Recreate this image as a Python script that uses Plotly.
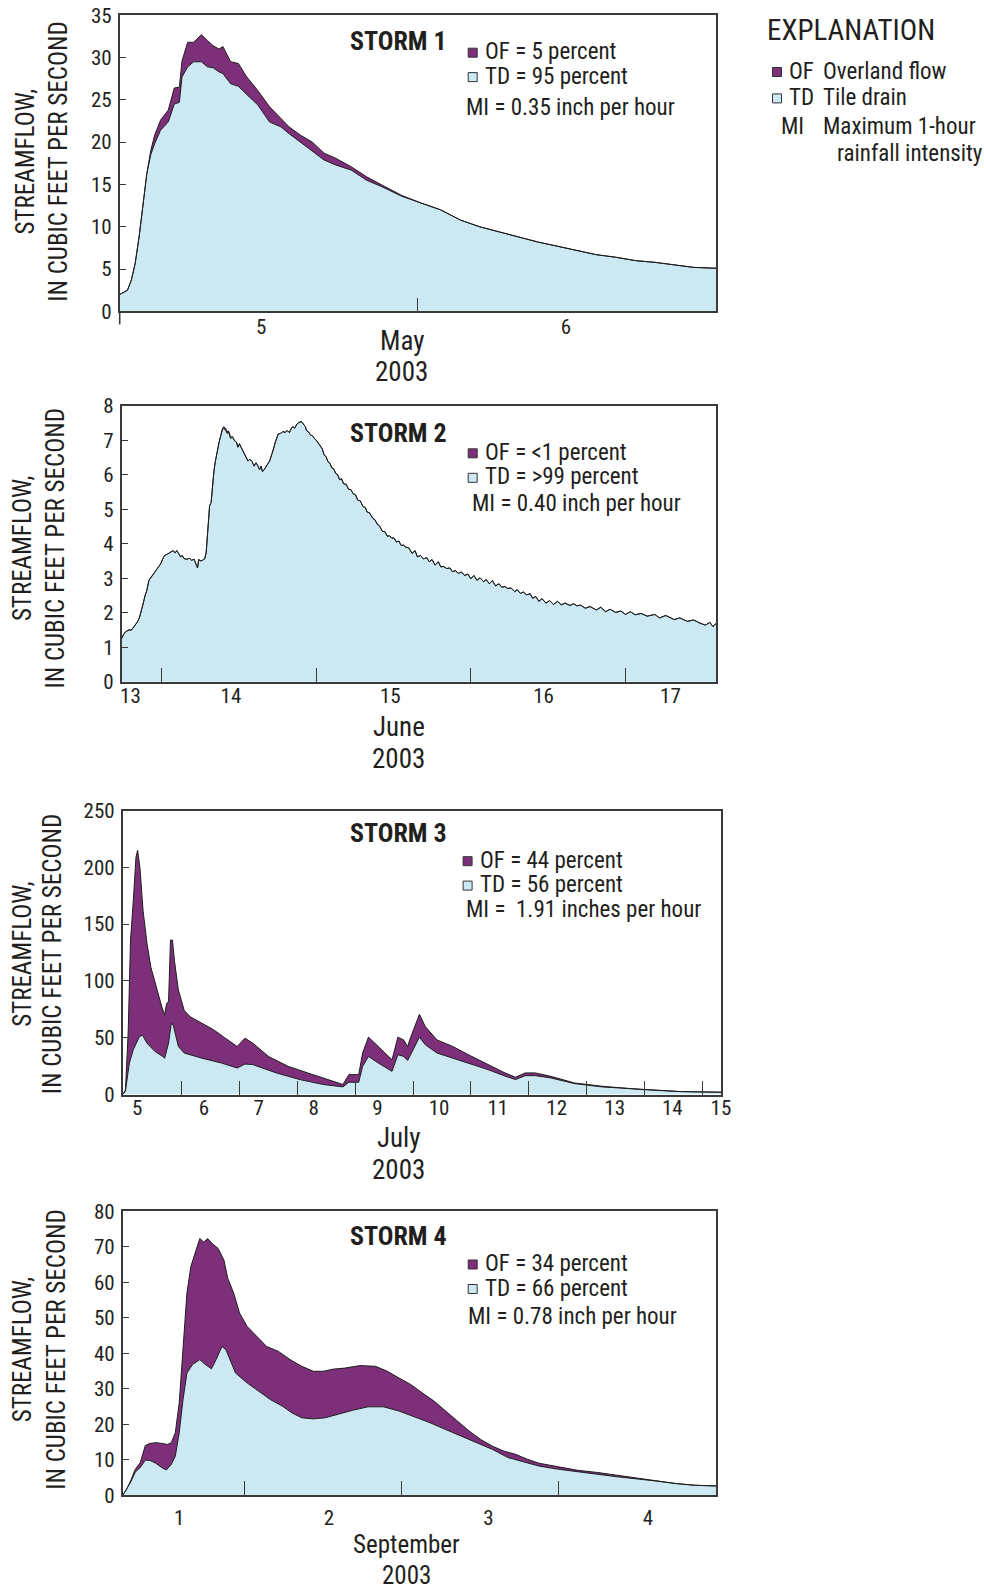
import plotly.graph_objects as go

# ---------------- DATA ----------------
# x values are fractional day-of-month (d.0 = midnight starting day d)

# Storm 1 - May 2003
storm1_day = [5.000, 5.026, 5.039, 5.052, 5.065, 5.078, 5.091, 5.104, 5.117, 5.137,
              5.163, 5.183, 5.200, 5.209, 5.228, 5.248, 5.274, 5.294, 5.313, 5.333,
              5.346, 5.372, 5.398, 5.424, 5.463, 5.502, 5.541, 5.568, 5.607, 5.646,
              5.685, 5.724, 5.776, 5.828, 5.881, 5.946, 6.011, 6.076, 6.142, 6.207,
              6.272, 6.337, 6.402, 6.468, 6.533, 6.598, 6.663, 6.729, 6.794, 6.859,
              6.924, 7.000]
storm1_total = [2.0, 2.5, 3.7, 5.7, 8.8, 12.8, 16.3, 19.0, 20.8, 22.6,
                23.8, 26.4, 26.5, 29.6, 31.8, 31.8, 32.7, 32.0, 31.4, 31.0,
                31.3, 29.5, 29.3, 27.8, 26.1, 24.2, 22.8, 21.8, 20.8, 20.0,
                18.7, 18.1, 17.1, 15.9, 14.9, 13.7, 12.8, 12.0, 10.8, 10.0,
                9.4, 8.8, 8.2, 7.7, 7.2, 6.7, 6.4, 6.0, 5.8, 5.5,
                5.2, 5.1]
storm1_td = [2.0, 2.5, 3.7, 5.7, 8.8, 12.8, 16.3, 18.5, 19.8, 21.4,
             22.4, 24.5, 24.7, 27.7, 28.9, 29.5, 29.5, 28.9, 28.8, 28.3,
             28.1, 26.9, 26.6, 25.7, 24.4, 22.4, 21.8, 21.0, 20.0, 19.0,
             17.9, 17.3, 16.7, 15.5, 14.7, 13.6, 12.8, 12.0, 10.8, 10.0,
             9.4, 8.8, 8.2, 7.7, 7.2, 6.7, 6.4, 6.0, 5.8, 5.5,
             5.2, 5.1]
storm1_ticklabels = ["5", "6"]
storm1_tickpos = [5.474, 6.496]
storm1_daybreaks = [6]

# Storm 2 - June 2003
storm2_day = [13.744, 13.757, 13.770, 13.790, 13.807, 13.825, 13.845, 13.858, 13.870, 13.882,
              13.895, 13.905, 13.920, 13.938, 13.958, 13.975, 13.996, 14.008, 14.021, 14.040,
              14.059, 14.075, 14.090, 14.100, 14.109, 14.125, 14.135, 14.147, 14.165, 14.180,
              14.196, 14.212, 14.225, 14.234, 14.242, 14.252, 14.265, 14.280, 14.290, 14.297,
              14.305, 14.312, 14.322, 14.330, 14.340, 14.348, 14.360, 14.373, 14.385, 14.395,
              14.403, 14.415, 14.425, 14.435, 14.448, 14.460, 14.473, 14.485, 14.495, 14.505,
              14.511, 14.525, 14.537, 14.549, 14.560, 14.572, 14.587, 14.600, 14.612, 14.624,
              14.635, 14.645, 14.654, 14.665, 14.677, 14.687, 14.700, 14.712, 14.725, 14.737,
              14.747, 14.755, 14.770, 14.785, 14.800, 14.815, 14.828, 14.838, 14.850, 14.862,
              14.876, 14.890, 14.906, 14.918, 14.930, 14.939, 14.950, 14.965, 14.976, 14.990,
              15.005, 15.027, 15.040, 15.052, 15.065, 15.077, 15.090, 15.102, 15.115, 15.127,
              15.140, 15.152, 15.165, 15.178, 15.195, 15.210, 15.225, 15.240, 15.255, 15.270,
              15.285, 15.303, 15.318, 15.330, 15.345, 15.366, 15.380, 15.395, 15.410, 15.429,
              15.445, 15.460, 15.475, 15.490, 15.504, 15.520, 15.535, 15.550, 15.565, 15.580,
              15.600, 15.620, 15.640, 15.655, 15.675, 15.695, 15.715, 15.731, 15.750, 15.770,
              15.790, 15.806, 15.825, 15.845, 15.865, 15.881, 15.900, 15.920, 15.940, 15.960,
              15.982, 16.000, 16.020, 16.040, 16.060, 16.083, 16.100, 16.120, 16.140, 16.160,
              16.183, 16.200, 16.220, 16.240, 16.260, 16.284, 16.300, 16.320, 16.340, 16.360,
              16.384, 16.400, 16.420, 16.440, 16.460, 16.485, 16.510, 16.535, 16.560, 16.585,
              16.610, 16.640, 16.665, 16.686, 16.710, 16.740, 16.770, 16.812, 16.840, 16.870,
              16.900, 16.937, 16.970, 17.000, 17.030, 17.063, 17.100, 17.140, 17.189, 17.220,
              17.260, 17.315, 17.350, 17.400, 17.440, 17.480, 17.516, 17.545, 17.565, 17.586]
storm2_td = [1.25, 1.38, 1.45, 1.50, 1.50, 1.60, 1.73, 1.85, 2.02, 2.25,
             2.50, 2.62, 2.94, 3.05, 3.18, 3.30, 3.42, 3.55, 3.66, 3.70,
             3.76, 3.80, 3.74, 3.80, 3.74, 3.62, 3.66, 3.57, 3.55, 3.58,
             3.52, 3.55, 3.40, 3.30, 3.55, 3.50, 3.52, 3.56, 3.75, 4.14,
             4.60, 5.10, 5.20, 5.70, 6.10, 6.36, 6.70, 6.94, 7.15, 7.30,
             7.34, 7.30, 7.20, 7.23, 7.05, 7.10, 6.99, 6.95, 6.80, 6.90,
             6.84, 6.70, 6.62, 6.51, 6.40, 6.45, 6.38, 6.25, 6.35, 6.26,
             6.15, 6.25, 6.09, 6.15, 6.22, 6.31, 6.40, 6.55, 6.75, 6.95,
             7.05, 7.18, 7.20, 7.25, 7.23, 7.28, 7.22, 7.33, 7.40, 7.35,
             7.47, 7.52, 7.54, 7.45, 7.40, 7.28, 7.25, 7.15, 7.13, 7.05,
             6.98, 6.84, 6.75, 6.58, 6.52, 6.38, 6.33, 6.20, 6.17, 6.04,
             6.00, 5.86, 5.88, 5.74, 5.72, 5.58, 5.57, 5.45, 5.42, 5.26,
             5.25, 5.08, 5.05, 4.92, 4.90, 4.74, 4.70, 4.57, 4.52, 4.36,
             4.35, 4.22, 4.23, 4.16, 4.17, 4.05, 4.08, 3.95, 3.96, 3.90,
             3.88, 3.72, 3.80, 3.62, 3.66, 3.56, 3.60, 3.48, 3.54, 3.38,
             3.48, 3.33, 3.34, 3.28, 3.30, 3.19, 3.22, 3.14, 3.18, 3.08,
             3.12, 2.98, 3.08, 2.94, 3.01, 2.90, 2.96, 2.84, 2.93, 2.78,
             2.84, 2.74, 2.76, 2.70, 2.72, 2.61, 2.67, 2.56, 2.60, 2.52,
             2.55, 2.42, 2.47, 2.33, 2.41, 2.28, 2.35, 2.24, 2.33, 2.23,
             2.28, 2.21, 2.26, 2.20, 2.22, 2.13, 2.18, 2.08, 2.16, 2.03,
             2.10, 2.01, 2.05, 1.95, 2.03, 1.94, 1.98, 1.90, 1.95, 1.85,
             1.92, 1.80, 1.85, 1.75, 1.79, 1.70, 1.64, 1.72, 1.60, 1.69]
# small overland-flow contribution near the first peak (cfs), keyed by day
storm2_of = {14.395: 0.04, 14.403: 0.05, 14.415: 0.05, 14.425: 0.05, 14.435: 0.04, 14.448: 0.04}
storm2_ticklabels = ["13", "14", "15", "16", "17"]
storm2_tickpos = [13.80, 14.45, 15.48, 16.47, 17.29]
storm2_daybreaks = [14, 15, 16, 17]

# Storm 3 - July 2003
storm3_total_day = [4.993, 5.040, 5.087, 5.128, 5.175, 5.222, 5.250, 5.290, 5.344, 5.412,
                    5.479, 5.581, 5.669, 5.716, 5.750, 5.784, 5.817, 5.851, 5.885, 5.953,
                    6.054, 6.156, 6.358, 6.561, 6.764, 6.967, 7.102, 7.237, 7.508, 7.846,
                    8.184, 8.522, 8.792, 8.894, 9.063, 9.131, 9.232, 9.401, 9.638, 9.739,
                    9.840, 9.908, 9.942, 10.111, 10.212, 10.415, 10.686, 10.956, 11.294, 11.565,
                    11.767, 11.936, 12.106, 12.376, 12.782, 13.255, 13.931, 14.607, 15.317]
storm3_total = [0, 4, 54, 136, 170, 209, 215, 200, 162, 133,
                112, 92, 77, 70, 80, 82, 136, 136, 118, 92,
                74, 68.5, 62.7, 57, 49.6, 42.3, 49.6, 45.2, 33.5, 24.8,
                19, 13.1, 8.8, 17.5, 17.5, 36.5, 50.5, 42.3, 30.6, 50.5,
                48, 42, 48, 70.6, 59.8, 48, 42.3, 35, 26.3, 19.5,
                15.2, 19, 19, 16, 10.2, 7.3, 4.4, 2.6, 2.0]
storm3_td_day = [4.993, 5.040, 5.108, 5.175, 5.277, 5.331, 5.412, 5.547, 5.682, 5.716,
                 5.784, 5.831, 5.865, 5.953, 6.054, 6.358, 6.696, 6.967, 7.102, 7.237,
                 7.643, 8.049, 8.454, 8.792, 8.894, 9.063, 9.131, 9.232, 9.401, 9.638,
                 9.739, 9.840, 9.908, 9.942, 10.111, 10.212, 10.415, 10.686, 10.956, 11.294,
                 11.565, 11.767, 11.936, 12.106, 12.376, 12.782, 13.255, 13.931, 14.607, 15.317]
storm3_td = [0, 3, 27.7, 39.4, 50.5, 52.5, 45.2, 38, 33.5, 32,
             45.2, 62.7, 61, 42.3, 36.5, 32, 27.7, 23.3, 26.8, 26.3,
             19, 13.1, 8.8, 6.7, 10.8, 10.8, 24.8, 33.5, 27.7, 20.4,
             35, 33.5, 30, 33.5, 50.5, 43.8, 36.5, 32, 27.7, 21.9,
             16.6, 13.1, 16.6, 16.6, 14.6, 9.6, 6.7, 4.4, 2.6, 2.0]
storm3_ticklabels = ["5", "6", "7", "8", "9", "10", "11", "12", "13", "14", "15"]
storm3_tickpos = [5.243, 6.392, 7.339, 8.285, 9.387, 10.449, 11.463, 12.478, 13.478, 14.472, 15.31]
storm3_daybreaks = [6, 7, 8, 9, 10, 11, 12, 13, 14, 15]

# Storm 4 - September 2003
storm4_total_day = [1.224, 1.249, 1.274, 1.304, 1.336, 1.368, 1.398, 1.435, 1.472, 1.509,
                    1.534, 1.559, 1.584, 1.608, 1.633, 1.658, 1.683, 1.715, 1.740, 1.765,
                    1.794, 1.832, 1.869, 1.893, 1.931, 1.968, 2.017, 2.079, 2.141, 2.216,
                    2.290, 2.364, 2.439, 2.501, 2.563, 2.637, 2.736, 2.835, 2.910, 2.984,
                    3.058, 3.133, 3.207, 3.281, 3.356, 3.430, 3.504, 3.579, 3.653, 3.727,
                    3.802, 3.876, 4.000, 4.124, 4.248, 4.372, 4.496, 4.620, 4.744, 4.867, 5.004]
storm4_total = [0, 1.7, 4.0, 7.3, 9.2, 14.0, 14.6, 14.8, 14.6, 14.3,
                14.8, 17.6, 26, 40, 56.9, 64.4, 68.1, 72.3, 71.3, 72.3,
                70.9, 69.5, 66.2, 61.1, 56.9, 51.3, 47.5, 44.7, 41.9, 40.5,
                38.2, 36.3, 34.9, 34.9, 35.5, 35.8, 36.5, 36.3, 34.9, 33.0,
                31.2, 28.8, 26.5, 23.7, 20.9, 18.1, 15.7, 13.8, 12.4, 11.5,
                10.1, 9.0, 8.0, 7.0, 6.4, 5.6, 4.8, 4.0, 3.3, 2.8, 2.6]
storm4_td_day = [1.224, 1.249, 1.274, 1.304, 1.336, 1.368, 1.398, 1.435, 1.472, 1.502,
                 1.534, 1.559, 1.584, 1.608, 1.633, 1.669, 1.715, 1.745, 1.789, 1.819,
                 1.856, 1.881, 1.906, 1.943, 2.017, 2.092, 2.166, 2.240, 2.302, 2.364,
                 2.439, 2.513, 2.587, 2.687, 2.786, 2.885, 2.984, 3.083, 3.182, 3.281,
                 3.380, 3.480, 3.579, 3.678, 3.777, 3.876, 4.000, 4.124, 4.248, 4.372,
                 4.496, 4.620, 4.744, 4.867, 5.004]
storm4_td = [0, 1.7, 3.6, 6.5, 7.8, 9.9, 9.8, 9.0, 7.8, 7.1,
             8.7, 11, 17.6, 26.9, 34.4, 36.8, 38.2, 37, 35.6, 38.2,
             41.9, 41, 38.2, 34.4, 31.6, 29.3, 26.9, 25.1, 23.2, 21.8,
             21.5, 21.8, 22.7, 23.9, 24.9, 24.9, 23.7, 22.1, 20.4, 18.5,
             16.7, 14.8, 12.9, 10.6, 9.4, 8.2, 7.3, 6.5, 5.9, 5.2,
             4.7, 4.0, 3.3, 2.8, 2.6]
storm4_ticklabels = ["1", "2", "3", "4"]
storm4_tickpos = [1.584, 2.538, 3.554, 4.570]
storm4_daybreaks = [2, 3, 4]

storm_names = ["STORM 1", "STORM 2", "STORM 3", "STORM 4"]
of_text = ["OF = 5 percent", "OF = <1 percent", "OF = 44 percent", "OF = 34 percent"]
td_text = ["TD = 95 percent", "TD = >99 percent", "TD = 56 percent", "TD = 66 percent"]
mi_text = ["MI = 0.35 inch per hour", "MI = 0.40 inch per hour",
           "MI =  1.91 inches per hour", "MI = 0.78 inch per hour"]
month_text = ["May", "June", "July", "September"]
year_text = "2003"
y_title1 = "STREAMFLOW,"
y_title2 = "IN CUBIC FEET PER SECOND"

# ---------------- STYLE / LAYOUT ----------------
W, H = 984, 1591
FONT = "Liberation Sans Narrow, Arial Narrow, Roboto Condensed, DejaVu Sans Condensed, Roboto, sans-serif"
PURPLE = "#7d2f7a"
BLUE = "#cbe8f3"
LINE = "#1e1e1e"
FRAME = "#3a3a3a"
TXT = "#231f20"

def px(x):
    return x / W

def py(y):
    return 1 - y / H

# plot boxes in pixels: left, right, top, bottom
boxes = [(119.7, 716.2, 15.2, 311.4),
         (121.7, 716.2, 405.8, 681.7),
         (122.7, 721.3, 810.5, 1094.5),
         (122.7, 716.2, 1211.2, 1495.2)]
xranges = [[5.0, 7.0], [13.744, 17.586], [4.993, 15.317], [1.224, 5.004]]
yranges = [[0, 35], [0, 8], [0, 250], [0, 80]]
ydticks = [5, 1, 50, 10]
ticklabel_pos = [storm1_tickpos, storm2_tickpos, storm3_tickpos, storm4_tickpos]
ticklabel_txt = [storm1_ticklabels, storm2_ticklabels, storm3_ticklabels, storm4_ticklabels]
daybreaks = [storm1_daybreaks, storm2_daybreaks, storm3_daybreaks, storm4_daybreaks]
xlabel_standoff = [-4, -6, -7, 3]

fig = go.Figure()

series = [
    (storm1_day, storm1_td, storm1_day, storm1_total),
    (storm2_day, storm2_td, storm2_day,
     [v + storm2_of.get(d, 0.0) for d, v in zip(storm2_day, storm2_td)]),
    (storm3_td_day, storm3_td, storm3_total_day, storm3_total),
    (storm4_td_day, storm4_td, storm4_total_day, storm4_total),
]

for i, (tdx, tdy, tx, ty) in enumerate(series):
    xa = "x" if i == 0 else f"x{i+1}"
    ya = "y" if i == 0 else f"y{i+1}"
    fig.add_trace(go.Scatter(x=tdx, y=tdy, mode="lines", fill="tozeroy",
                             fillcolor=BLUE, line=dict(color=LINE, width=1),
                             xaxis=xa, yaxis=ya, showlegend=False, hoverinfo="skip"))
    fig.add_trace(go.Scatter(x=tx, y=ty, mode="lines", fill="tonexty",
                             fillcolor=PURPLE, line=dict(color=LINE, width=1),
                             xaxis=xa, yaxis=ya, showlegend=False, hoverinfo="skip"))

layout = dict(width=W, height=H, margin=dict(l=0, r=0, t=0, b=0, autoexpand=False),
              paper_bgcolor="white", plot_bgcolor="white",
              font=dict(family=FONT, color=TXT), showlegend=False)

TICKFONT = 21
for i, (l, r, t, b) in enumerate(boxes):
    xk = "xaxis" if i == 0 else f"xaxis{i+1}"
    yk = "yaxis" if i == 0 else f"yaxis{i+1}"
    ya = "y" if i == 0 else f"y{i+1}"
    xa = "x" if i == 0 else f"x{i+1}"
    layout[xk] = dict(domain=[px(l), px(r)], range=xranges[i], anchor=ya,
                      automargin=False, showgrid=False, zeroline=False,
                      showline=True, linecolor=FRAME, linewidth=1.6, mirror=True,
                      tickmode="array", tickvals=ticklabel_pos[i], ticktext=ticklabel_txt[i],
                      ticks="", ticklabelstandoff=xlabel_standoff[i],
                      tickfont=dict(size=TICKFONT, family=FONT, color=TXT),
                      minor=dict(tickmode="array", tickvals=daybreaks[i], ticks="inside",
                                 ticklen=14, tickwidth=1.3, tickcolor=FRAME, showgrid=False))
    layout[yk] = dict(domain=[py(b), py(t)], range=yranges[i], anchor=xa,
                      automargin=False, showgrid=False, zeroline=False,
                      showline=True, linecolor=FRAME, linewidth=1.6, mirror=True,
                      tickmode="linear", tick0=0, dtick=ydticks[i],
                      ticks="inside", ticklen=6, tickwidth=1.2, tickcolor=FRAME,
                      tickfont=dict(size=TICKFONT, family=FONT, color=TXT),
                      ticklabelstandoff=2)
fig.update_layout(**layout)

annotations = []
shapes = []

def add_text(x, y, text, size, anchor="left", bold=False, angle=0):
    t = f"<b>{text}</b>" if bold else text
    annotations.append(dict(x=px(x), y=py(y), xref="paper", yref="paper", text=t,
                            showarrow=False, xanchor=anchor, yanchor="middle",
                            textangle=angle,
                            font=dict(size=size, family=FONT, color=TXT)))

def add_square(cx, cy, color, s=9):
    shapes.append(dict(type="rect", xref="paper", yref="paper",
                       x0=px(cx - s / 2), x1=px(cx + s / 2),
                       y0=py(cy + s / 2), y1=py(cy - s / 2),
                       fillcolor=color, line=dict(color="#333333", width=1)))

# storm text blocks (pixel positions)
title_pos = [(398.7, 40.6), (398.7, 433.1), (398.7, 832.8), (398.7, 1235.6)]
sq_x = [472.7, 472.7, 467.6, 472.7]
txt_x = [482.9, 482.9, 477.8, 482.9]
of_y = [51.7, 452.3, 860.2, 1263.5]
td_y = [76.1, 476.8, 884.6, 1288.0]
mi_x = [463.6, 469.7, 463.6, 465.6]
mi_y = [107.5, 503.1, 909.9, 1316.5]
month_pos = [(401.7, 340.8), (398.7, 727.3), (398.7, 1138.1), (406.8, 1544.0)]
month_size = [27, 27, 27, 25]
year_dy = [31.5, 31.5, 31.5, 31.0]
ytitle_x = [(25.4, 57.8), (22.3, 55.8), (22.3, 52.8), (22.3, 55.8)]
ytitle_y = [161.0, 547.8, 953.5, 1349.0]

for i in range(4):
    add_text(title_pos[i][0], title_pos[i][1], storm_names[i], 26, anchor="center", bold=True)
    add_square(sq_x[i], of_y[i] + 1, PURPLE)
    add_square(sq_x[i], td_y[i] + 1, BLUE)
    add_text(txt_x[i], of_y[i], of_text[i], 23)
    add_text(txt_x[i], td_y[i], td_text[i], 23)
    add_text(mi_x[i], mi_y[i], mi_text[i], 23)
    add_text(month_pos[i][0], month_pos[i][1], month_text[i], month_size[i], anchor="center")
    add_text(month_pos[i][0], month_pos[i][1] + year_dy[i], year_text, month_size[i], anchor="center")
    add_text(ytitle_x[i][0], ytitle_y[i], y_title1, 25, anchor="center", angle=-90)
    add_text(ytitle_x[i][1], ytitle_y[i], y_title2, 25, anchor="center", angle=-90)

# storm 1 left-edge tick extending below axis
l1, r1, t1, b1 = boxes[0]
shapes.append(dict(type="line", xref="paper", yref="paper",
                   x0=px(l1), x1=px(l1), y0=py(b1), y1=py(b1 + 13),
                   line=dict(color=FRAME, width=1.6)))

# EXPLANATION block
add_text(764.9, 30.4, "EXPLANATION", 29)
add_square(777.0, 72.0, PURPLE)
add_square(777.0, 98.4, BLUE)
add_text(787.2, 71.0, "OF", 23)
add_text(820.7, 71.0, "Overland flow", 23)
add_text(787.2, 97.4, "TD", 23)
add_text(820.7, 97.4, "Tile drain", 23)
add_text(779.0, 126.8, "MI", 23)
add_text(820.7, 126.8, "Maximum 1-hour", 23)
add_text(834.9, 153.2, "rainfall intensity", 23)

fig.update_layout(annotations=annotations, shapes=shapes)
fig.write_html("out.html", config={"displayModeBar": False},
               post_script="document.body.style.margin='0';document.body.style.overflow='hidden';")
